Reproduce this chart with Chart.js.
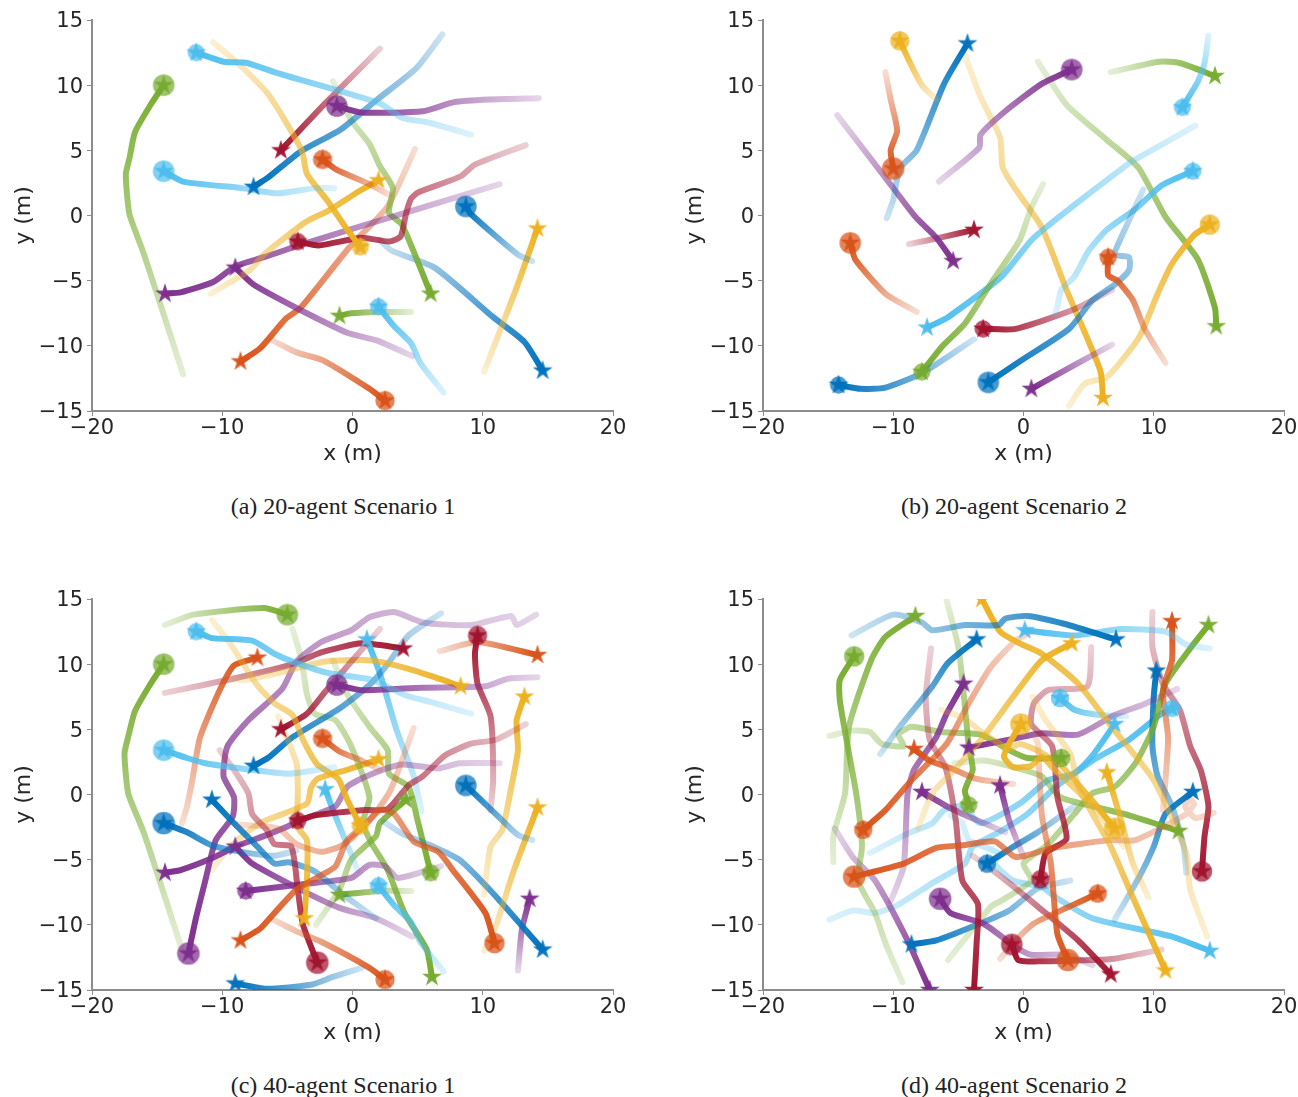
<!DOCTYPE html>
<html lang="en">
<head>
<meta charset="UTF-8">
<title>Agent trajectories</title>
<script src="https://cdn.jsdelivr.net/npm/chart.js"></script>
<style>
html, body { margin: 0; padding: 0; background: #fff; overflow: hidden; width: 1298px; height: 1097px; }
canvas { position: absolute; }
.caption { position: absolute; width: 640px; text-align: center; font: 24px "Liberation Serif", serif; color: #222; }
</style>
</head>
<body>
<canvas id="panelA" width="640" height="470" style="left:0;top:0"></canvas>
<canvas id="panelB" width="640" height="470" style="left:671px;top:0"></canvas>
<canvas id="panelC" width="640" height="470" style="left:0;top:579px"></canvas>
<canvas id="panelD" width="640" height="470" style="left:671px;top:579px"></canvas>
<div class="caption" style="left:23px;top:493px">(a) 20-agent Scenario 1</div>
<div class="caption" style="left:694px;top:493px">(b) 20-agent Scenario 2</div>
<div class="caption" style="left:23px;top:1072px">(c) 40-agent Scenario 1</div>
<div class="caption" style="left:694px;top:1072px">(d) 40-agent Scenario 2</div>
<script>
// palette index: 0 blue, 1 orange, 2 yellow, 3 purple, 4 green, 5 light blue, 6 dark red
const palette = ['0,114,189', '217,83,25', '237,177,32', '126,47,142', '119,172,48', '77,190,238', '162,20,47'];

const xTicks = [-20, -10, 0, 10, 20];
const yTicks = [-15, -10, -5, 0, 5, 10, 15];

// each path starts at the agent marker and ends at the faded tail, values read in metres
const pathsA = [
  [[-14.5,10],[-15.5,8.5],[-16.7,6.4],[-17.1,4.5],[-17.4,3.2],[-17.3,1.5],[-17.1,0],[-16,-3],[-13,-12.2]],
  [[-14.5,3.4],[-13,2.6],[-8.5,2.1],[-5.7,1.7],[-2.9,2.1],[-1.4,2.1]],
  [[-12,12.5],[-9.9,11.8],[-8.1,11.7],[-5.7,10.9],[2.1,8.6],[3.8,7.5],[6,7.1],[9.1,6.2]],
  [[-1.2,8.4],[0.7,7.9],[5.4,8],[7.8,8.7],[10.5,8.9],[14.3,9]],
  [[-2.3,4.3],[-1.2,3.5],[1.3,2.4],[2.8,1.6]],
  [[8.7,0.7],[9.1,0.1],[12.7,-3],[13.8,-3.5]],
  [[0.6,-2.4],[-0.4,-1.1],[-1.9,1.1],[-3.5,3.2],[-3.9,5],[-6.4,9.2],[-8.5,11.4],[-10.7,13.3]],
  [[-4.2,-2],[-2.6,-2.3],[0.7,-1.7],[2.8,-2],[3.7,-1.6],[4.1,0.1],[4.5,1.3],[5.1,1.8],[8.3,3],[9.4,3.9],[13.3,5.4]],
  [[2,-7],[3.2,-8.5],[4.5,-9.8],[5.2,-11.3],[7,-13.6]],
  [[2.5,-14.2],[1.3,-13.3],[-2.3,-11.1],[-4.3,-10.5],[-6.3,-9.5]],
  [[-5.5,5],[-2.1,8.6],[2.1,12.8]],
  [[-7.6,2.2],[-6.5,2.9],[-4,4.9],[-0.9,6.6],[1.9,8.9],[4.9,11.3],[6.9,13.9]],
  [[2,2.7],[0.4,1.8],[-1.8,0.4],[-3.6,-0.5],[-6.8,-3],[-7.9,-4.2],[-10.9,-6]],
  [[14.2,-1],[12.5,-5.8],[10.1,-12]],
  [[-14.4,-6],[-13.2,-5.9],[-10.7,-5.1],[-9,-3.9],[-6.8,-3.2],[-3.5,-2.1],[2.7,-0.2],[11.3,2.4]],
  [[-9,-4],[-7.6,-5.3],[-4.3,-7.1],[-0.4,-9],[1.9,-9.6],[4.6,-10.8]],
  [[6,-6],[3.8,-0.7],[2.8,0.2],[3.1,2.1],[2.1,3.8],[1.3,5.5],[-0.1,7.3],[-1.5,10.3]],
  [[-1,-7.7],[-0.1,-7.5],[2.1,-7.4],[4.5,-7.4]],
  [[-8.6,-11.2],[-7.1,-10.2],[-5.1,-7.9],[-4,-7.1],[-0.2,-2.4],[2.7,0.7],[4.8,5.1]],
  [[14.6,-11.9],[13.2,-9.7],[10.8,-7.8],[6.3,-4],[3,-2.7],[2.1,-1.9]]
];
const huesA = [4,5,5,3,1,0,2,6,5,1,6,0,2,2,3,3,4,4,1,0];
const ringsA = [10,10,8,10,9,10,8,8,8,9,0,0,0,0,0,0,0,0,0,0];

const pathsB = [
  [[-9.5,13.4],[-8.7,11.7],[-7.8,10],[-6.7,8.9]],
  [[3.7,11.2],[1.4,10.1],[-1.4,8],[-3.3,6.2],[-3.4,5.2],[-6.5,2.6]],
  [[-10,3.6],[-10.2,5],[-9.7,6.5],[-10.2,8.9],[-10.6,11]],
  [[-13.3,-2.1],[-12.9,-3.4],[-10.6,-6],[-8.2,-7.4]],
  [[6.5,-3.2],[6.5,-4.6],[7.2,-5],[8.4,-6.5],[9.3,-8.7],[10.9,-11.3]],
  [[-14.2,-13],[-12.5,-13.3],[-10.6,-13.2],[-7.8,-12.1],[-3.8,-9.5]],
  [[-2.7,-12.8],[-0.3,-11.2],[3.5,-8.7],[5.3,-6.5],[7,-5.3],[8.1,-4.2],[8.1,-3.2],[7,-3],[7.4,-1.9],[9.2,2]],
  [[12.2,8.3],[13.4,10.3],[13.9,11.7],[14.2,13.8]],
  [[13,3.4],[10.6,2.3],[8.6,0.5],[6.4,-1.1],[5,-2.7],[3.9,-4.7],[2.9,-5.7],[2.6,-7],[2.4,-7.6]],
  [[14.3,-0.7],[13.1,-1.5],[11.4,-3.7],[10.3,-6],[8.9,-9.3],[6.4,-12.4],[4.7,-12.9],[3.5,-14.6]],
  [[-7.8,-12],[-6.2,-10],[-4.5,-8.3],[-2.5,-5.2],[-0.3,-1.9],[0.6,0.6],[1.5,2.4]],
  [[-3.1,-8.7],[-0.6,-8.7],[3.9,-7.2],[6.8,-5.7]],
  [[-4.3,13.2],[-6.1,10.1],[-8.2,5],[-9.5,3.6],[-10,1.2],[-10.5,-0.2]],
  [[14.7,10.7],[12,11.7],[10.4,11.8],[6.7,11]],
  [[-5.4,-3.5],[-6.7,-1.7],[-8.3,-0.1],[-10.3,2.5],[-14.3,7.7]],
  [[-3.8,-1.1],[-6.4,-1.7],[-8.8,-2.2]],
  [[-7.4,-8.6],[-5.8,-7.8],[-1.7,-4.7],[0.8,-1.7],[8.1,4],[10,5.1],[13.2,6.9]],
  [[0.6,-13.3],[2.4,-12.3],[6.8,-9.9]],
  [[6.1,-14],[5.9,-11.9],[3.3,-5.7],[1.4,-0.9],[-0.6,2],[-1.6,3.7],[-1.8,6],[-3.3,9.1],[-4.5,12.3]],
  [[14.8,-8.5],[14.7,-7.1],[13.4,-3.4],[10.9,-0.1],[8.8,3.7],[6.4,5.8],[3.3,8.5],[1.1,11.8]]
];
const huesB = [2,3,1,1,1,0,0,5,5,2,4,6,0,4,3,6,5,3,2,4];
const ringsB = [9,10,10.5,10,8,8,10,8,8,9.5,8,8,0,0,0,0,0,0,0,0];

const pathsC = [
  [[-14.5,10],[-15.5,8.5],[-16.7,6.4],[-17.2,4.5],[-17.5,3.2],[-17.4,1.5],[-17.2,0],[-16,-3],[-13.1,-11.9]],
  [[-14.5,3.4],[-12.7,2.8],[-11.3,2.4],[-8.5,2],[-4.9,1.6],[-1.4,2.1]],
  [[-12,12.5],[-10.8,12],[-7.7,11.8],[-6,10.8],[-4.6,10.2],[-1.8,9.3],[1.5,8.8],[4.1,7.6],[6,7.1],[9.1,6.2]],
  [[-1.2,8.4],[0.7,8],[5.4,8.2],[10.2,8.3],[12,8.9],[14.2,9]],
  [[-2.3,4.3],[-1,3.3],[0.7,2.6],[2.1,1.9]],
  [[8.7,0.7],[11.3,-1.8],[12.7,-3.1],[13.8,-3.5]],
  [[-5,13.8],[-6.8,14.3],[-12.2,13.8],[-14.4,13]],
  [[9.6,12.2],[9.4,10.8],[9.6,8.5],[10.6,6],[10.8,1.1],[10.6,-1.2]],
  [[0.6,-2.4],[-0.4,-0.4],[-1.1,1.2],[-2.7,2.3],[-3.8,4.2],[-4.6,6.1],[-6,7],[-7.4,8.5],[-9.4,11.6],[-10.8,13.4]],
  [[2.5,-14.2],[1.3,-13.3],[-2.4,-11.3],[-4.3,-10.5],[-6.3,-9.5]],
  [[10.9,-11.4],[10.2,-9.1],[7.7,-5.8],[6.6,-4.4],[4.7,-3.6],[3.2,-1.5],[2.1,-1.2],[-0.1,-3.4],[-1,-4],[-2.4,-4.4],[-4.3,-3.8],[-5.7,-2.6],[-8.7,-2.3]],
  [[-8.6,-11.2],[-7.1,-10.3],[-6,-9.1],[-4.3,-7.3],[-2.4,-6.2],[-1.3,-5.5],[-0.4,-3.5],[1.3,-2],[2.9,0.3],[4.7,5.1]],
  [[-7.3,10.5],[-9.1,9.9],[-10.2,8],[-11.7,4.4],[-12.3,1.1],[-12.7,-0.9],[-13.1,-2.2]],
  [[14.2,10.7],[9.6,11.7],[6.7,11]],
  [[-5.5,5],[-3.5,6.2],[-2,8],[2.1,12.7]],
  [[-4.2,-2],[-2.9,-1.6],[0.7,-1.2],[2.7,-1.1],[4.3,0.7],[5.4,1.4],[7.1,3],[9.1,3.9],[11,4.2],[13.3,5.4]],
  [[-2.7,-12.9],[-3.8,-10],[-4.2,-7.3],[-4.7,-4],[-6,-3.8],[-6.6,-2.7],[-7.7,-1.5],[-8,0.1],[-9.1,1.9],[-10.2,3.4]],
  [[13.2,7.5],[12.6,5.7],[12.7,3.4],[12.2,0.6],[11.5,-2.7],[10.6,-4],[10.1,-7.7]],
  [[14.2,-1],[12.4,-5.8],[10.9,-10.4],[10.1,-12]],
  [[8.3,8.3],[6.3,9],[4.1,9.7],[1.3,10.3],[-2.1,10.2],[-5.4,9.4],[-8.2,8.8],[-9.1,8.8]],
  [[-3.7,-9.5],[-3.5,-6.6],[-3.5,-3.5],[-4.2,-2.5],[-4.2,0.3],[-4.3,2.4],[-5.7,6]],
  [[-7.6,2.2],[-6.5,2.8],[-4.6,4.4],[-1,6.6],[1.3,8.4],[2.7,10],[4.3,12.2],[6.8,13.9]],
  [[14.6,-11.9],[10.8,-7.6],[8.2,-5],[6,-3.9],[3.8,-3],[2.4,-2.1]],
  [[-14.5,-2.2],[-12.7,-2.9],[-10.8,-3.9],[-8.5,-4.4],[-6,-4.7],[-4.3,-4.3]],
  [[-10.8,-0.4],[-9.1,-2.2],[-7.3,-4],[-6,-5.3],[-4.9,-5.2],[-2.9,-5.9],[-0.7,-7.7],[1.8,-9.5]],
  [[-9,-14.5],[-6.6,-14.9],[-3.2,-14.6],[-1.5,-14],[0.7,-13.3]],
  [[-12.6,-12.2],[-12,-9.4],[-11.3,-6.6],[-10.5,-3.5],[-9.2,-1.7],[-9.1,-0.2],[-9.9,1.4],[-9.6,3.7],[-8,5.7],[-5.4,8.1],[-4.3,10.2],[-2.4,11.7],[-0.1,12.6],[1.3,13.6],[3.2,14],[5.4,13.2],[9.1,13],[12.2,13.7],[12.6,13],[14.1,13.8]],
  [[-14.4,-6],[-13.2,-5.8],[-10.8,-4.9],[-9,-4],[-6.3,-3],[-3.5,-1.8],[-1.3,-0.9],[-0.4,0.6],[1.3,1.5],[3.8,2.3],[6.6,2],[8.2,2.4],[11.3,2.4]],
  [[-9,-4],[-7.7,-5.3],[-4,-7.3],[-1,-8.7],[1.8,-9.5],[4.6,-10.9]],
  [[-8.2,-7.4],[-4,-6.9],[-0.1,-6.4],[1.3,-5.4],[2.5,-5.5],[3.5,-6.4],[6.8,-5.5]],
  [[13.6,-8],[13,-10.4],[12.7,-13.5]],
  [[1.1,11.9],[2.1,9.3],[3.4,4.9],[4.7,1.4],[5.3,-1.3]],
  [[-2.1,0.4],[-1.3,-1.7],[0.4,-5.8]],
  [[2,-7],[3.2,-8.5],[4.5,-9.8],[5.2,-11.3],[7,-13.6]],
  [[4.1,-0.4],[2.1,-2.2],[1.8,-3.2],[-0.1,-5],[-1,-7.3],[-2.8,-10]],
  [[6,-6],[5,-2],[4.3,0.6],[2.8,1.6],[2.7,3.4],[1.3,5.2],[-0.4,7.7],[-1.5,10.3]],
  [[-1,-7.7],[2.1,-7.4],[4.5,-7.4]],
  [[6.1,-14],[5.7,-11.9],[4,-9.1],[2.7,-5.8],[1.5,-3.8],[0.8,-2.2],[1.3,-0.2],[-0.1,3.7],[-1.3,5.7],[-2.9,6.2],[-3.5,7.7],[-3.9,10.3],[-4.6,12.7]],
  [[3.9,11.2],[0.7,11.6],[-2.4,10.9],[-4.6,10],[-9.1,8.9],[-14.4,7.8]],
  [[2,2.7],[-0.4,1.9],[-2.7,1.2],[-3.2,0.5],[-3.5,-0.7],[-7.1,-2.2],[-9.4,-4],[-10.8,-5.8]]
];
const huesC = [4,5,5,3,1,0,4,6,2,1,1,1,1,1,6,6,6,2,2,2,2,0,0,0,0,0,3,3,3,3,3,5,5,5,4,4,4,4,6,2];
const ringsC = [10,10,8,10,9,10,10,9,8,9,9.5,0,0,0,0,8,10.5,0,0,0,0,0,0,10.5,0,0,10.5,0,0,8,0,0,0,8,0,8,0,0,0,0];

const pathsD = [
  [[-13,10.6],[-14.1,8.8],[-14.1,7.2],[-13.5,3.7],[-12.8,-0.2],[-12.4,-4],[-12.7,-6.6],[-11.4,-9.1],[-10.6,-11.4],[-9.3,-14.4]],
  [[-8.3,13.7],[-10.6,12.1],[-11.7,10.3],[-13.4,5.2],[-13.7,0.1],[-14.6,-3.2],[-14.6,-5.2]],
  [[-3.6,11.9],[-5.8,10.1],[-7,8.3],[-9.5,5.2],[-11,3.1]],
  [[7.1,11.9],[3.1,13.1],[0.3,13.7],[-1.4,13.5],[-1.9,13],[-4.5,13],[-7,12.6],[-7.8,13.2],[-10,13.8],[-13.2,12.2]],
  [[0.1,12.6],[3.9,12.2],[7.5,12.7],[10.9,12.5],[12.5,11.5],[14.3,11.2]],
  [[-3.2,15],[-1.8,12.5],[-0.3,11.6],[1.4,10.8],[4.2,8.5],[7,4.9],[10,1.1],[12.5,-4.5],[12.8,-7.3],[14.1,-10.9]],
  [[3.7,11.6],[1.4,10.3],[-0.8,7.5],[-3.1,4.4],[-5.3,1.9],[-7,0.1],[-8.1,-2.6]],
  [[-0.2,5.4],[-1.1,3.9],[-1.5,2.9],[-0.8,2.1],[0.6,2.2],[1.4,2.9],[2.2,2.1],[5.3,-0.9],[7.7,-4]],
  [[7,-2.6],[5.3,-0.5],[2.9,2.2],[1.4,3.2],[-0.3,3.9],[-1.1,3.5],[-3.1,4.7],[-4.5,5.8],[-6.3,6.5]],
  [[6.4,1.7],[7.5,-2],[8.4,-5.3],[9.6,-7.9]],
  [[10.9,-13.5],[8.4,-7.9],[6.7,-4],[5.3,-1.5],[4.2,0.6],[3.6,3.1],[1.7,5.7],[0.7,7.5]],
  [[-12.3,-2.7],[-10.6,-1.2],[-8.6,1.1],[-5.9,3.9],[-4.2,7],[-2.5,9.8],[-0.6,11.8],[0.8,12.6]],
  [[-13,-6.3],[-9.2,-5.3],[-6.7,-4.1],[-4.7,-3.9],[-2.2,-3.6],[-0.6,-4.8],[2.2,-4.1],[6.7,-3.5],[8.6,-3.5],[12.5,-1.5],[13.1,-0.7],[12.8,-0.4],[12.4,-0.9],[13.2,-1.8],[14.6,-1.4]],
  [[11.4,13.3],[11.4,10.3],[10.7,8],[11.1,4.4],[10.9,1.1],[10.7,-1.2]],
  [[3.4,-12.7],[2.6,-10.7],[2.1,-5.3],[1.4,-1.5],[1.1,3.9],[0.9,4.4]],
  [[5.7,-7.6],[3.3,-8.7],[0.8,-9.9],[-0.6,-11.2],[-1.8,-12.6]],
  [[-8.4,3.5],[-7.2,2.6],[-5.3,1.9],[-3.6,1.2],[-0.8,0.8]],
  [[13.7,-5.9],[13.9,-3.2],[14.2,-0.9],[13.6,1.9],[12.8,3.7],[12,6.5],[10.7,8.5],[9.9,11.3],[9.9,14]],
  [[-0.9,-11.5],[-0.4,-12.7],[1.4,-12.8],[5.3,-12.7],[7,-12.6],[10.6,-11.9]],
  [[1.3,-6.5],[1.7,-4.5],[3.3,-3.4],[2.6,-0.2],[2.2,3.7],[0.6,5.4],[0.8,7],[1.9,8],[4.9,8.3],[5.2,11.3]],
  [[-3.8,-15],[-3.6,-11.4],[-3.5,-8.4],[-4.7,-6.6],[-5.2,-2],[-6,2.1],[-7.2,4.2],[-7.5,7.5],[-7.1,11.2]],
  [[6.7,-13.8],[4.2,-11.2],[1.1,-8.6],[-1.1,-6.8],[-2.8,-5.5],[-3.9,-4.7]],
  [[-6.4,-8],[-5.6,-9.1],[-3.1,-9.9],[-0.6,-11.7],[0.6,-12.3],[3.3,-12.3],[5.3,-13.1]],
  [[-7.2,-15],[-8.9,-11.2],[-11.4,-6.6],[-13.1,-4.8],[-14.5,-2.6]],
  [[-4.6,8.5],[-5.9,6.2],[-6.7,4.4],[-8.4,1.9],[-8.9,0.1],[-9.2,-5.5],[-10.2,-8.2]],
  [[-4.2,3.6],[-1.1,4.2],[1.4,4.7],[4.2,4.6],[7,6.1],[9.2,6.9],[11.8,8.1]],
  [[-7.8,0.2],[-5.9,-0.9],[-4.2,-1.7],[-1.4,-2.9]],
  [[-1.8,0.7],[-1.1,-2],[0,-4.8]],
  [[-4.2,-0.8],[-4.5,0.3],[-3.9,1.9],[-4.2,3.7],[-4.6,7.8],[-5,11.3],[-5.9,14.9]],
  [[2.9,2.8],[0.3,2.8],[-1.1,3.4],[-3.3,4.6],[-6.4,4.8],[-8.6,5.2],[-9.6,4.6],[-9.2,3.7],[-10.9,3.9],[-11.8,4.8],[-13.1,4.9],[-14.9,4.5]],
  [[14.2,13],[13.1,11.6],[10.9,8.5],[10,5.2],[8.6,2.4],[7,0.6],[5.3,0.1],[3.9,-1.5],[1.9,-3.8],[0,-5.3],[0.6,-6.6],[-1.8,-8.2],[-2.5,-8.6],[-4.2,-10.7],[-5.8,-12.7]],
  [[11.9,-2.8],[8.1,-1.6],[5.3,-0.9],[2.8,-0.2],[1.4,1.4],[-0.8,2.1],[-3.1,2.6],[-5.3,2.4]],
  [[-8.6,-11.5],[-6.7,-11.2],[-3.1,-9.8],[-1.1,-8.9],[1.1,-7.2],[3.6,-6.6]],
  [[-2.8,-5.3],[-0.6,-3.9],[1.1,-2.9],[3.9,-0.9]],
  [[10.2,9.5],[10,7.5],[9.9,3.7],[10.3,1.4],[11.4,-0.9],[12.3,-4],[12.5,-6]],
  [[13,0.2],[10.9,-1.5],[10,-4],[8.9,-6.3],[7,-9.6]],
  [[2.8,7.4],[3.9,6.5],[5.8,6.1],[7.9,6]],
  [[7,5.4],[5.3,3],[3.9,1.6],[1.9,1.1],[-0.3,-0.7],[-3.3,-2.2],[-4.7,-0.9],[-6.1,-1.2],[-7,-2.2],[-8.9,-3],[-11.8,-4.5]],
  [[11.4,6.6],[10.6,6.2],[8.1,4.2],[5.3,2.6],[2.5,0.6],[0.3,-1.5],[-1.9,-2.9],[-3.9,-4],[-4.5,-5.3],[-7,-6.8],[-9.7,-8.5],[-11.4,-9.1],[-13.1,-8.9],[-14.9,-9.6]],
  [[14.3,-12],[11.4,-10.9],[5.3,-9.5],[2.5,-7.9],[1.4,-7.1],[-0.8,-6.6],[-2.2,-5.3],[-1.9,-4.5],[-4.2,-3.5],[-4.7,-2.2],[-5.6,-1.6]]
];
const huesD = [4,4,0,0,5,2,2,2,2,2,2,1,1,1,1,1,1,6,6,6,6,6,3,3,3,3,3,3,4,4,4,4,0,0,0,0,5,5,5,5];
const ringsD = [9.5,0,0,0,0,0,0,10,10,0,0,8.5,10.5,0,10.5,8.5,0,9.5,10,8.5,0,0,10.5,0,0,0,0,0,8,8.5,0,0,0,8.5,0,0,8.5,0,8,0];

// filled star, with an optional translucent disc round it
function makeMarker(rgb, ring) {
  const size = 28, mid = size / 2;
  const c = document.createElement('canvas');
  c.width = size;
  c.height = size;
  const g = c.getContext('2d');
  if (ring > 0) {
    g.fillStyle = 'rgba(' + rgb + ',0.72)';
    g.beginPath();
    g.arc(mid, mid, ring * 1.08, 0, Math.PI * 2);
    g.fill();
  }
  g.fillStyle = 'rgba(' + rgb + ',0.95)';
  g.beginPath();
  for (let i = 0; i < 10; i++) {
    const r = i % 2 ? 4 : 10.4;
    const a = -Math.PI / 2 + i * Math.PI / 5;
    g.lineTo(mid + r * Math.cos(a), mid + r * Math.sin(a));
  }
  g.closePath();
  g.fill();
  return c;
}

// fade along the line from the marker to the tail
function fadeColor(context, path, rgb) {
  const chart = context.chart;
  if (!chart.chartArea) return 'rgb(' + rgb + ')';
  const sx = chart.scales.x, sy = chart.scales.y;
  const last = path[path.length - 1];
  const grad = chart.ctx.createLinearGradient(
    sx.getPixelForValue(path[0][0]), sy.getPixelForValue(path[0][1]),
    sx.getPixelForValue(last[0]), sy.getPixelForValue(last[1]));
  grad.addColorStop(0, 'rgba(' + rgb + ',1)');
  grad.addColorStop(1, 'rgba(' + rgb + ',0.2)');
  return grad;
}

function axisOptions(label, lo, hi, step, values, isX) {
  return {
    type: 'linear',
    min: lo,
    max: hi,
    afterBuildTicks: scale => { scale.ticks = values.map(v => ({ value: v })); },
    afterFit: scale => {
      if (isX) scale.height = 59; else scale.width = 92;
    },
    border: { color: '#8c8c8c', width: 2 },
    grid: { display: true, drawOnChartArea: false, drawTicks: true, tickLength: 5, tickColor: '#8c8c8c', tickWidth: 1 },
    ticks: {
      color: '#262626',
      padding: isX ? 0 : 4,
      labelOffset: isX ? 0 : 2,
      autoSkip: false,
      maxRotation: 0,
      stepSize: step,
      font: { family: 'DejaVu Sans', size: 21 },
      callback: v => String(v).replace('-', '\u2212')
    },
    title: {
      display: true,
      text: label,
      color: '#262626',
      font: { family: 'DejaVu Sans', size: 22 },
      padding: isX ? { top: 0, bottom: 3 } : { top: 11, bottom: 0 }
    }
  };
}

function drawPanel(id, paths, hues, rings) {
  const datasets = paths.map((path, i) => ({
    data: path.map(p => ({ x: p[0], y: p[1] })),
    showLine: true,
    tension: 0.2,
    borderWidth: 6,
    borderCapStyle: 'round',
    borderJoinStyle: 'round',
    borderColor: ctx => fadeColor(ctx, path, palette[hues[i]]),
    pointRadius: 0,
    clip: 0,
    order: 2 + i
  }));
  // markers sit on top of every line
  datasets.push({
    data: paths.map(path => ({ x: path[0][0], y: path[0][1] })),
    showLine: false,
    pointStyle: paths.map((path, i) => makeMarker(palette[hues[i]], rings[i])),
    pointRadius: 14,
    clip: 0,
    order: 1
  });
  new Chart(document.getElementById(id), {
    type: 'scatter',
    data: { datasets },
    options: {
      responsive: false,
      animation: false,
      events: [],
      layout: { padding: { top: 20, right: 27, bottom: 0, left: 0 } },
      plugins: { legend: { display: false }, tooltip: { enabled: false } },
      scales: {
        x: axisOptions('x (m)', -20, 20, 10, xTicks, true),
        y: axisOptions('y (m)', -15, 15, 5, yTicks, false)
      }
    }
  });
}

drawPanel('panelA', pathsA, huesA, ringsA);
drawPanel('panelB', pathsB, huesB, ringsB);
drawPanel('panelC', pathsC, huesC, ringsC);
drawPanel('panelD', pathsD, huesD, ringsD);
</script>
</body>
</html>
